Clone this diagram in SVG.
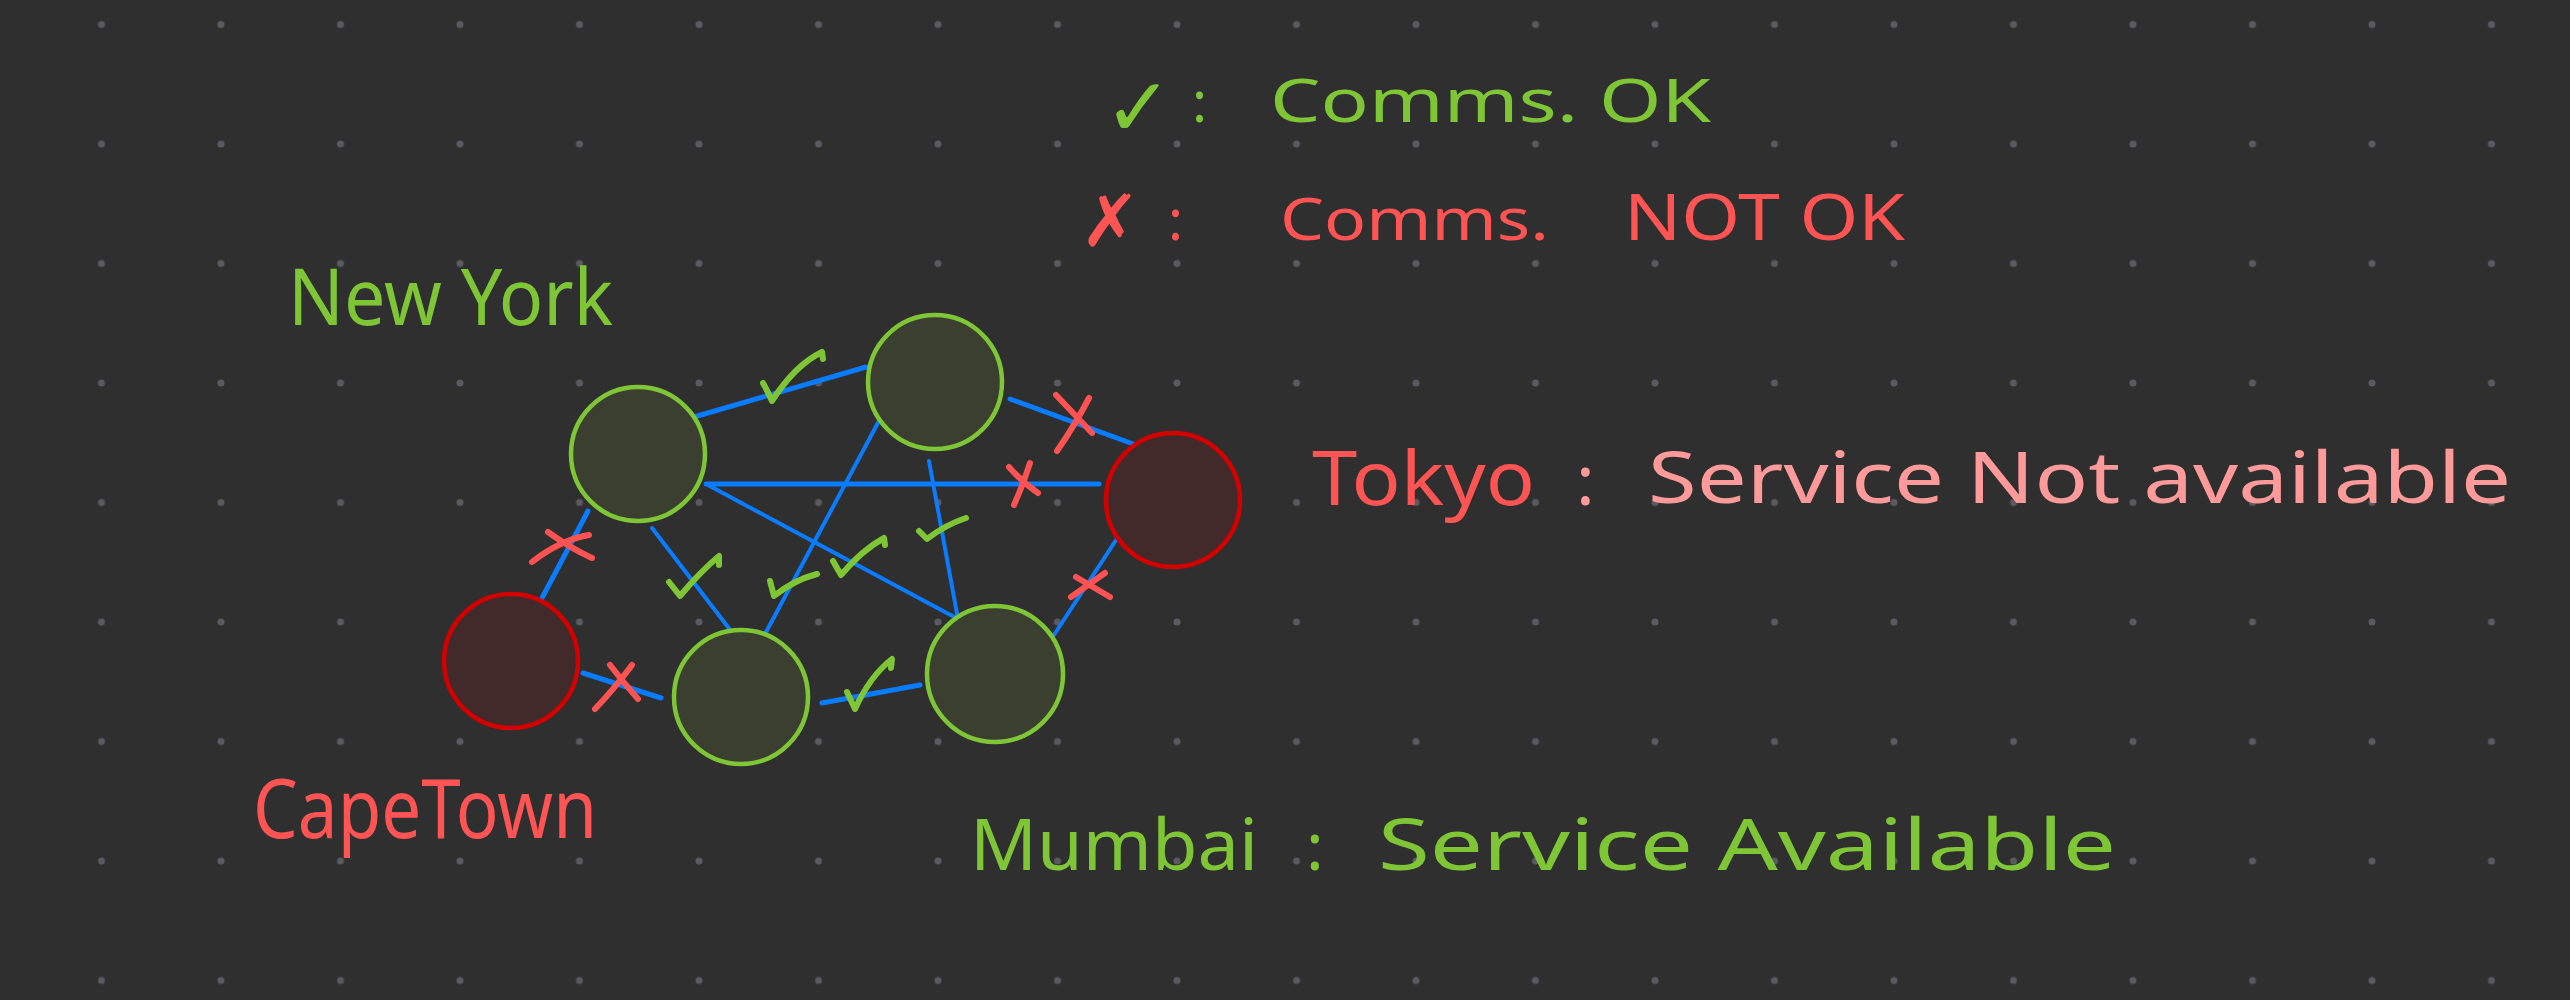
<svg xmlns="http://www.w3.org/2000/svg" width="2570" height="1000" viewBox="0 0 2570 1000">
<defs>
<pattern id="grid" x="41.75" y="-35.25" width="119.5" height="119.5" patternUnits="userSpaceOnUse"><circle cx="59.75" cy="59.75" r="3.5" fill="#5a5a60"/></pattern>
</defs>
<style>
.ok{fill:#3a3f2f;stroke:#7ec636;stroke-width:4.5}
.bad{fill:#432a2a;stroke:#d40000;stroke-width:4.5}
.ln{stroke:#0a7cff;stroke-linecap:round;fill:none}
.chk{stroke:#7ec636;stroke-width:6;stroke-linecap:round;stroke-linejoin:round;fill:none}
.crs{stroke:#ff5252;stroke-width:6;stroke-linecap:round;fill:none}
.t{font-family:"Noto Sans","DejaVu Sans",sans-serif}
.g{fill:#7ec636}
.r{fill:#ff5454}
.p{fill:#ff9a9a}
</style>
<rect width="2570" height="1000" fill="#2f2f2f"/>
<rect width="2570" height="1000" fill="url(#grid)"/>
<g id="connectors">
<line class="ln" stroke-width="5" x1="694" y1="417" x2="866" y2="367"/>
<line class="ln" stroke-width="5" x1="1010" y1="399" x2="1136" y2="445"/>
<line class="ln" stroke-width="5" x1="706" y1="484" x2="1099" y2="484"/>
<line class="ln" stroke-width="4" x1="706" y1="484" x2="958" y2="619"/>
<line class="ln" stroke-width="4" x1="880" y1="419" x2="765" y2="634"/>
<line class="ln" stroke-width="4" x1="929" y1="461" x2="958" y2="619"/>
<line class="ln" stroke-width="4" x1="652" y1="528" x2="731" y2="631"/>
<line class="ln" stroke-width="5" x1="542" y1="598" x2="588" y2="511"/>
<line class="ln" stroke-width="5" x1="583" y1="673" x2="661" y2="698"/>
<line class="ln" stroke-width="5" x1="822" y1="703" x2="920" y2="685"/>
<line class="ln" stroke-width="4" x1="1118" y1="537" x2="1052" y2="638"/>
<path class="chk" d="M763,383 Q768,392 772,401 Q795,365 822,352 L823,359"/>
<path class="chk" d="M919,531 L927,539 Q945,525 966,518"/>
<path class="chk" d="M833,561 L841,575 Q862,550 884,538 L885,545"/>
<path class="chk" d="M770,581 L774,596 Q794,580 817,574"/>
<path class="chk" d="M669,582 L680,596 Q700,572 719,556 L719,565"/>
<path class="chk" d="M847,692 L855,709 Q870,676 892,659 L891,668"/>
<path class="crs" d="M1057,451 Q1075,425 1089,398 M1056,395 Q1075,415 1092,433"/>
<path class="crs" d="M1014,505 Q1023,485 1030,463 M1009,467 Q1022,482 1038,493"/>
<path class="crs" d="M532,562 Q560,540 589,535 M548,532 Q570,548 592,558"/>
<path class="crs" d="M595,709 Q615,688 632,665 M610,665 Q623,682 638,699"/>
<path class="crs" d="M1071,597 Q1088,585 1105,573 M1076,577 Q1093,587 1110,597"/>
</g>
<g id="node-newyork"><circle class="ok" cx="638" cy="454" r="67"/></g>
<g id="node-top"><circle class="ok" cx="935" cy="382" r="67"/></g>
<g id="node-tokyo"><circle class="bad" cx="1173" cy="500" r="67"/></g>
<g id="node-capetown"><circle class="bad" cx="511" cy="661" r="67"/></g>
<g id="node-mumbai"><circle class="ok" cx="741" cy="697" r="67"/></g>
<g id="node-bottomright"><circle class="ok" cx="995" cy="674" r="68"/></g>
<g id="labels" class="t">
<text class="g" x="1104" y="136" font-size="82">✓</text>
<text class="g" x="1192" y="122" font-size="56">:</text>
<text class="g" x="1270" y="122" font-size="60" textLength="441" lengthAdjust="spacingAndGlyphs">Comms. OK</text>
<text class="r" x="1080" y="246" font-size="72">✗</text>
<text class="r" x="1168" y="240" font-size="56">:</text>
<text class="r" x="1280" y="240" font-size="58" textLength="269" lengthAdjust="spacingAndGlyphs">Comms.</text>
<text class="r" x="1624" y="240" font-size="64" textLength="281" lengthAdjust="spacingAndGlyphs">NOT OK</text>
<text class="g" x="288" y="325" font-size="78" textLength="325" lengthAdjust="spacingAndGlyphs">New York</text>
<text class="r" x="253" y="838" font-size="82" textLength="344" lengthAdjust="spacingAndGlyphs">CapeTown</text>
<text class="r" x="1312" y="505" font-size="74" textLength="223" lengthAdjust="spacingAndGlyphs">Tokyo</text>
<text class="p" x="1576" y="505" font-size="70">:</text>
<text class="p" x="1648" y="503" font-size="72" textLength="863" lengthAdjust="spacingAndGlyphs">Service Not available</text>
<text class="g" x="970" y="870" font-size="72" textLength="288" lengthAdjust="spacingAndGlyphs">Mumbai</text>
<text class="g" x="1306" y="870" font-size="66">:</text>
<text class="g" x="1378" y="870" font-size="72" textLength="738" lengthAdjust="spacingAndGlyphs">Service Available</text>
</g>
</svg>
